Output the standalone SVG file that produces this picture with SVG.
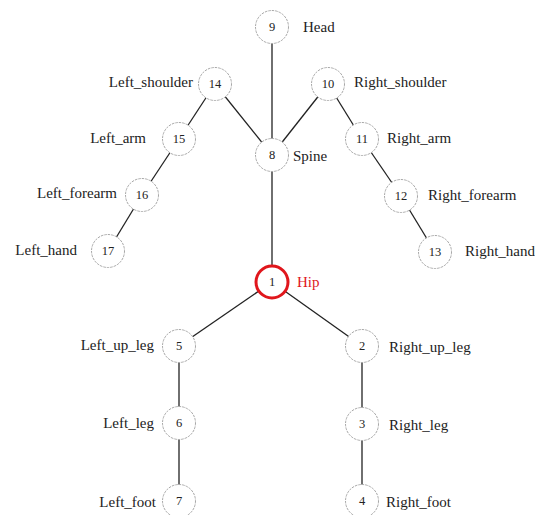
<svg xmlns="http://www.w3.org/2000/svg" width="535" height="515" viewBox="0 0 535 515">
<style>
.n{fill:#fff;stroke:#a8a8a8;stroke-width:1;stroke-dasharray:2.5 1}
.num{font-family:"Liberation Serif",serif;font-size:12.5px;fill:#222;text-anchor:middle}
.lb{font-family:"Liberation Serif",serif;font-size:15px;fill:#222}
.l{text-anchor:end}
#edges line{stroke:#222;stroke-width:1.3}
</style>
<rect width="535" height="515" fill="#fff"/>
<g id="edges">
<line x1="272" y1="27" x2="272" y2="155"/>
<line x1="272" y1="155" x2="272" y2="282"/>
<line x1="272" y1="155" x2="215" y2="84"/>
<line x1="272" y1="155" x2="328" y2="84"/>
<line x1="215" y1="84" x2="179" y2="139"/>
<line x1="179" y1="139" x2="142" y2="195"/>
<line x1="142" y1="195" x2="108" y2="251"/>
<line x1="328" y1="84" x2="362" y2="139"/>
<line x1="362" y1="139" x2="401" y2="196"/>
<line x1="401" y1="196" x2="435" y2="252"/>
<line x1="272" y1="282" x2="179" y2="346"/>
<line x1="272" y1="282" x2="362" y2="346"/>
<line x1="179" y1="346" x2="179" y2="502"/>
<line x1="362" y1="346" x2="362" y2="502"/>
</g>
<g id="n9"><circle class="n" cx="272" cy="27" r="16.5"/><text class="num" x="272" y="31">9</text><text class="lb" x="303" y="32">Head</text></g>
<g id="n14"><circle class="n" cx="215" cy="84" r="16.5"/><text class="num" x="215" y="88">14</text><text class="lb l" x="193" y="87">Left_shoulder</text></g>
<g id="n10"><circle class="n" cx="328" cy="84" r="16.5"/><text class="num" x="328" y="88">10</text><text class="lb" x="354" y="87">Right_shoulder</text></g>
<g id="n15"><circle class="n" cx="179" cy="139" r="16.5"/><text class="num" x="179" y="143">15</text><text class="lb l" x="146" y="143">Left_arm</text></g>
<g id="n11"><circle class="n" cx="362" cy="139" r="16.5"/><text class="num" x="362" y="143">11</text><text class="lb" x="387" y="143">Right_arm</text></g>
<g id="n8"><circle class="n" cx="272" cy="155" r="16.5"/><text class="num" x="272" y="159">8</text><text class="lb" x="293" y="161">Spine</text></g>
<g id="n16"><circle class="n" cx="142" cy="195" r="16.5"/><text class="num" x="142" y="199">16</text><text class="lb l" x="117" y="198">Left_forearm</text></g>
<g id="n12"><circle class="n" cx="401" cy="196" r="16.5"/><text class="num" x="401" y="200">12</text><text class="lb" x="428" y="200">Right_forearm</text></g>
<g id="n17"><circle class="n" cx="108" cy="251" r="16.5"/><text class="num" x="108" y="255">17</text><text class="lb l" x="77" y="255">Left_hand</text></g>
<g id="n13"><circle class="n" cx="435" cy="252" r="16.5"/><text class="num" x="435" y="256">13</text><text class="lb" x="465" y="256">Right_hand</text></g>
<g id="n1"><circle cx="272" cy="282" r="16" fill="#fff" stroke="#e0161c" stroke-width="3"/><text class="num" x="272" y="286">1</text><text class="lb" x="297" y="287" style="fill:#e0161c">Hip</text></g>
<g id="n5"><circle class="n" cx="179" cy="346" r="16.5"/><text class="num" x="179" y="350">5</text><text class="lb l" x="154" y="350">Left_up_leg</text></g>
<g id="n2"><circle class="n" cx="362" cy="346" r="16.5"/><text class="num" x="362" y="350">2</text><text class="lb" x="389" y="352">Right_up_leg</text></g>
<g id="n6"><circle class="n" cx="179" cy="423" r="16.5"/><text class="num" x="179" y="427">6</text><text class="lb l" x="154" y="428">Left_leg</text></g>
<g id="n3"><circle class="n" cx="362" cy="424" r="16.5"/><text class="num" x="362" y="428">3</text><text class="lb" x="389" y="430">Right_leg</text></g>
<g id="n7"><circle class="n" cx="179" cy="501" r="16.5"/><text class="num" x="179" y="505">7</text><text class="lb l" x="156" y="507">Left_foot</text></g>
<g id="n4"><circle class="n" cx="362" cy="501" r="16.5"/><text class="num" x="362" y="505">4</text><text class="lb" x="386" y="507">Right_foot</text></g>
</svg>
